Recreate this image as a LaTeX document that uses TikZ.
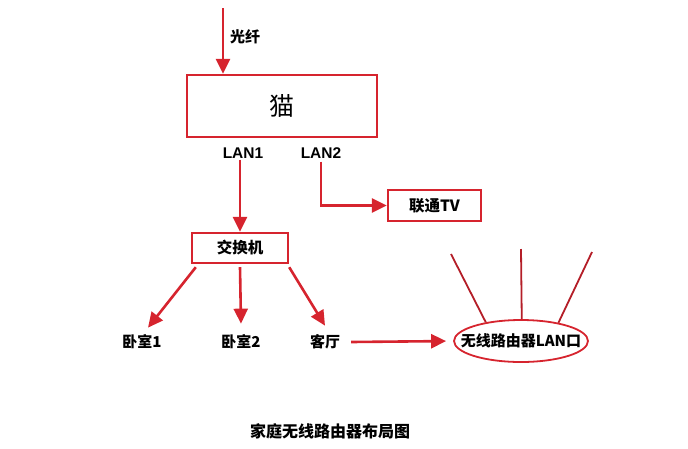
\documentclass[tikz,border=0pt]{standalone}
\usepackage{fontspec}
\setmainfont{Liberation Sans}
\newfontfamily\cjk{Noto Sans CJK SC}
\usepackage{xcolor}
\usepackage{tikz}
\usetikzlibrary{arrows.meta,positioning,shapes.geometric,calc}
\definecolor{netred}{RGB}{214,36,46}
\definecolor{antred}{RGB}{180,30,40}
\tikzset{
  redbox/.style={draw=netred, line width=2.4pt, fill=white, font=\cjk\bfseries\fontsize{15.5}{17}\selectfont,
                 inner sep=0pt, text centered},
  redarrow/.style={-{Triangle[length=15pt,width=14pt]}, draw=netred, line width=2.6pt},
  antenna/.style={draw=antred, line width=1.8pt},
  lbl/.style={font=\cjk\bfseries\fontsize{15}{17}\selectfont, inner sep=1pt},
  portlbl/.style={font=\bfseries\fontsize{15.5}{17}\selectfont, inner sep=1pt}
}
\begin{document}
\begin{tikzpicture}[x=1pt, y=-1pt]
    \useasboundingbox (0,0) rectangle (688,448);

    % modem and fibre input
    \node[redbox, minimum width=190, minimum height=62,
          font=\cjk\fontsize{25}{27}\selectfont] (modem) at (282,106) {猫};
    \coordinate (fibertop) at (223,8);
    \draw[redarrow] (fibertop) -- (fibertop |- modem.north);
    \node[lbl] (fiber) at (245,37) {光纤};

    % ports
    \node[portlbl] (lan1) at (243,153) {LAN1};
    \node[portlbl] (lan2) at (321,153) {LAN2};

    % switch and TV
    \node[redbox, minimum width=96, minimum height=30] (switch) at (240,248) {交换机};
    \node[redbox, minimum width=93, minimum height=31] (tv) at (434.5,205.5) {联通TV};
    \draw[redarrow] (switch.north |- lan1.south) -- (switch.north);
    \draw[redarrow] ([yshift=-2]lan2.south) |- (tv.west);

    % rooms
    \node[lbl] (room1) at (142,342) {卧室1};
    \node[lbl] (room2) at (241,342) {卧室2};
    \node[lbl] (hall)  at (325,342) {客厅};
    \draw[redarrow] ([xshift=5,yshift=-3]switch.south west) -- ([xshift=6,yshift=6]room1.north);
    \draw[redarrow] ([yshift=-3]switch.south) -- ([yshift=10]room2.north);
    \draw[redarrow] ([yshift=-3]switch.south east) -- ([yshift=8]room1.north -| hall.north);

    % wireless router
    \node[ellipse, draw=netred, line width=1.8pt, minimum width=134, minimum height=42,
          inner sep=0pt] (router) at (521,341) {};
    \node[lbl, font=\cjk\bfseries\fontsize{15}{17}\selectfont] (routertext) at (router) {无线路由器LAN口};
    \draw[redarrow, shorten >=7pt] ([xshift=10]hall.east) -- (router.west);
    \coordinate (ant1) at (451,254);
    \coordinate (ant2) at (521,249);
    \coordinate (ant3) at (592,252);
    \draw[antenna] (router.152) -- (ant1);
    \draw[antenna] (router.88) -- (ant2);
    \draw[antenna] (router.26) -- (ant3);

    % title
    \node[lbl, font=\cjk\bfseries\fontsize{16}{18}\selectfont] (title) at (330,431) {家庭无线路由器布局图};
\end{tikzpicture}
\end{document}
